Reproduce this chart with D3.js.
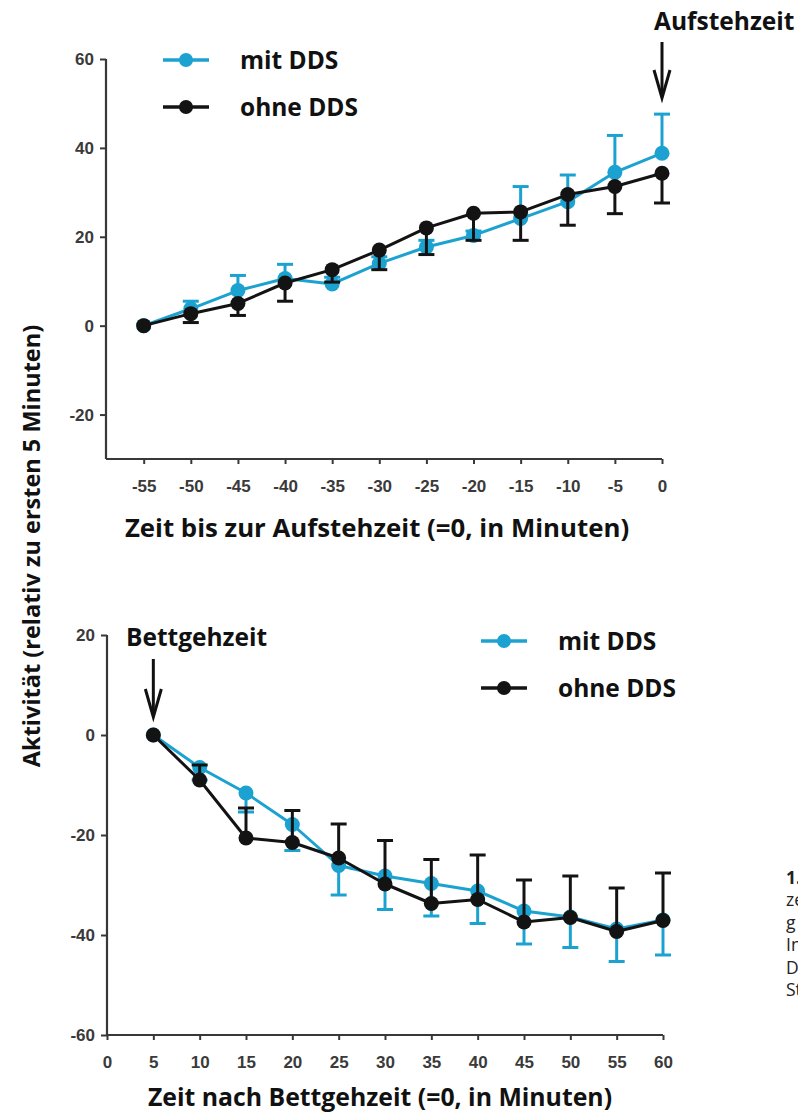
<!DOCTYPE html>
<html><head><meta charset="utf-8">
<script src="https://cdn.jsdelivr.net/npm/d3@7"></script>
<style>body{margin:0;background:#fff}svg{display:block}</style>
</head><body>
<svg id="c" width="798" height="1115"></svg>
<script>
// ---------- data ----------
const topX = [-55,-50,-45,-40,-35,-30,-25,-20,-15,-10,-5,0];
const topMit = [0, 3.8, 7.9, 10.6, 9.4, 14.0, 17.7, 20.3, 24.1, 27.9, 34.5, 38.8];
const topMitErr = [0, 1.7, 3.4, 3.2, 1.5, 1.5, 1.5, 1.0, 7.2, 6.0, 8.3, 8.8];
const topOhne = [0, 2.7, 5.0, 9.6, 12.6, 17.0, 22.0, 25.3, 25.6, 29.5, 31.3, 34.3];
const topOhneErr = [0, 2.0, 2.7, 4.1, 2.8, 4.4, 6.0, 6.1, 6.4, 6.9, 6.1, 6.7];
const topXTicks = [-55,-50,-45,-40,-35,-30,-25,-20,-15,-10,-5,0];
const topYTicks = [-20,0,20,40,60];

const botX = [5,10,15,20,25,30,35,40,45,50,55,60];
const botMit = [0, -6.5, -11.6, -17.9, -26.1, -28.2, -29.7, -31.2, -35.2, -36.4, -38.8, -37.0];
const botMitErr = [0, 2.5, 3.8, 5.2, 5.9, 6.7, 6.5, 6.5, 6.6, 6.1, 6.5, 7.0];
const botOhne = [0, -9.0, -20.6, -21.5, -24.6, -29.8, -33.7, -32.9, -37.4, -36.5, -39.3, -37.1];
const botOhneErr = [0, 3.0, 6.0, 6.4, 6.8, 8.7, 8.8, 8.9, 8.4, 8.3, 8.7, 9.5];
const botXTicks = [0,5,10,15,20,25,30,35,40,45,50,55,60];
const botYTicks = [-60,-40,-20,0,20];

const seriesNames = ["mit DDS", "ohne DDS"];
const yTitle = "Aktivität (relativ zu ersten 5 Minuten)";
const topXTitle = "Zeit bis zur Aufstehzeit (=0, in Minuten)";
const botXTitle = "Zeit nach Bettgehzeit (=0, in Minuten)";
const topMarker = "Aufstehzeit";
const botMarker = "Bettgehzeit";
const captionFrag = ["1.", "ze", "g", "In", "D", "St"];

// ---------- drawing ----------
const svg = d3.select('#c');
const BLUE = '#1ca2d0', BLACK = '#131313';
const TITLE_FONT = "'Open Sans', 'Noto Sans', sans-serif";
const TICK_FONT = "'Liberation Sans', Arial, sans-serif";

function panel(cfg){
  const x = d3.scaleLinear().domain(cfg.xDomain).range(cfg.xRange);
  const y = d3.scaleLinear().domain(cfg.yDomain).range(cfg.yRange);
  const g = svg.append('g');

  const ya = g.append('g').attr('transform', `translate(${cfg.xRange[0]},0)`)
    .call(d3.axisLeft(y).tickValues(cfg.yTicks).tickSize(6).tickPadding(6).tickFormat(d => String(d)));
  const xa = g.append('g').attr('transform', `translate(0,${cfg.yRange[0]})`)
    .call(d3.axisBottom(x).tickValues(cfg.xTicks).tickSize(5).tickPadding(16).tickFormat(d => String(d)));
  [ya, xa].forEach(a => {
    a.select('.domain').attr('stroke', '#383838').attr('stroke-width', 2.2);
    a.selectAll('.tick line').attr('stroke', '#383838').attr('stroke-width', 2);
    a.selectAll('.tick text').attr('fill', '#3a3a3a').style('font-family', TICK_FONT)
      .style('font-size', '17px').style('font-weight', 'bold');
  });
  ya.select('.domain').attr('d', `M0,${cfg.yRange[0]}V${cfg.yRange[1]}`);
  xa.select('.domain').attr('d', `M${cfg.xRange[0]},0H${cfg.xRange[1]}`);

  const series = [
    {vals: cfg.mit, err: cfg.mitErr, dir: cfg.mitDir, color: BLUE},
    {vals: cfg.ohne, err: cfg.ohneErr, dir: cfg.ohneDir, color: BLACK}
  ];
  series.forEach(s => {
    const pts = cfg.xs.map((xv, i) => ({x: xv, y: s.vals[i], e: s.err[i]}));
    const sg = g.append('g');
    sg.append('path').datum(pts)
      .attr('fill', 'none').attr('stroke', s.color).attr('stroke-width', 3)
      .attr('stroke-linejoin', 'round')
      .attr('d', d3.line().x(d => x(d.x)).y(d => y(d.y)));
    const eb = sg.selectAll('.eb').data(pts.filter(d => d.e > 0)).join('g');
    eb.append('line')
      .attr('x1', d => x(d.x)).attr('x2', d => x(d.x))
      .attr('y1', d => y(d.y)).attr('y2', d => y(d.y + s.dir * d.e))
      .attr('stroke', s.color).attr('stroke-width', 3);
    eb.append('line')
      .attr('x1', d => x(d.x) - 8).attr('x2', d => x(d.x) + 8)
      .attr('y1', d => y(d.y + s.dir * d.e)).attr('y2', d => y(d.y + s.dir * d.e))
      .attr('stroke', s.color).attr('stroke-width', 3);
    sg.selectAll('circle').data(pts).join('circle')
      .attr('cx', d => x(d.x)).attr('cy', d => y(d.y)).attr('r', 7.5)
      .attr('fill', s.color);
  });

  // x title
  g.append('text').attr('x', cfg.xTitlePos[0]).attr('y', cfg.xTitlePos[1])
    .attr('text-anchor', 'middle').style('font-family', TITLE_FONT)
    .style('font-size', cfg.xTitleSize).style('font-weight', 'bold').attr('fill', '#111')
    .text(cfg.xTitle);

  // legend
  cfg.legend.rows.forEach((r, i) => {
    const ly = cfg.legend.y + i * cfg.legend.dy;
    const col = i === 0 ? BLUE : BLACK;
    g.append('line').attr('x1', cfg.legend.x).attr('x2', cfg.legend.x + 46)
      .attr('y1', ly).attr('y2', ly).attr('stroke', col).attr('stroke-width', 3.5);
    g.append('circle').attr('cx', cfg.legend.x + 23).attr('cy', ly).attr('r', 7).attr('fill', col);
    g.append('text').attr('x', cfg.legend.tx).attr('y', ly + 9)
      .style('font-family', TITLE_FONT).style('font-size', '24.5px').style('font-weight', 'bold')
      .attr('fill', '#111').text(r);
  });

  // marker label + arrow
  const ax = x(cfg.arrow.at);
  g.append('text').attr('x', cfg.arrow.tx).attr('y', cfg.arrow.ty)
    .style('font-family', TITLE_FONT).style('font-size', '24.5px').style('font-weight', 'bold')
    .attr('fill', '#111').text(cfg.arrow.label);
  g.append('line').attr('x1', ax).attr('x2', ax).attr('y1', cfg.arrow.y1).attr('y2', cfg.arrow.y2 - 2)
    .attr('stroke', '#111').attr('stroke-width', 3);
  g.append('path')
    .attr('d', `M${ax - 8},${cfg.arrow.y2 - 28}L${ax},${cfg.arrow.y2}L${ax + 8},${cfg.arrow.y2 - 28}`)
    .attr('fill', 'none').attr('stroke', '#111').attr('stroke-width', 3);
}

panel({
  xs: topX, mit: topMit, mitErr: topMitErr, mitDir: 1, ohne: topOhne, ohneErr: topOhneErr, ohneDir: -1,
  xDomain: [-59, 0], xRange: [106, 662], yDomain: [-30, 60], yRange: [459, 59],
  xTicks: topXTicks, yTicks: topYTicks,
  xTitle: topXTitle, xTitlePos: [377, 537], xTitleSize: '25.8px',
  legend: {x: 163, y: 60, dy: 47, tx: 240, rows: seriesNames},
  arrow: {at: 0, label: topMarker, tx: 654, ty: 30, y1: 42, y2: 98}
});

panel({
  xs: botX, mit: botMit, mitErr: botMitErr, mitDir: -1, ohne: botOhne, ohneErr: botOhneErr, ohneDir: 1,
  xDomain: [0, 60], xRange: [107, 663], yDomain: [-60, 20], yRange: [1035, 635],
  xTicks: botXTicks, yTicks: botYTicks,
  xTitle: botXTitle, xTitlePos: [380, 1106], xTitleSize: '24.8px',
  legend: {x: 481, y: 641, dy: 47, tx: 558, rows: seriesNames},
  arrow: {at: 5, label: botMarker, tx: 126, ty: 646, y1: 659, y2: 717}
});

// y title
svg.append('text').attr('transform', 'translate(40,546) rotate(-90)')
  .attr('text-anchor', 'middle').style('font-family', TITLE_FONT)
  .style('font-size', '23.5px').style('font-weight', 'bold').attr('fill', '#111')
  .text(yTitle);

// caption fragment at right edge (cut by the page edge, as in the reference)
captionFrag.forEach((t, i) => {
  svg.append('text').attr('x', 786).attr('y', 884 + i * 22.4)
    .style('font-family', TITLE_FONT).style('font-size', '17.5px')
    .style('font-weight', i === 0 ? 'bold' : 'normal').attr('fill', '#222').text(t);
});
</script>
</body></html>
